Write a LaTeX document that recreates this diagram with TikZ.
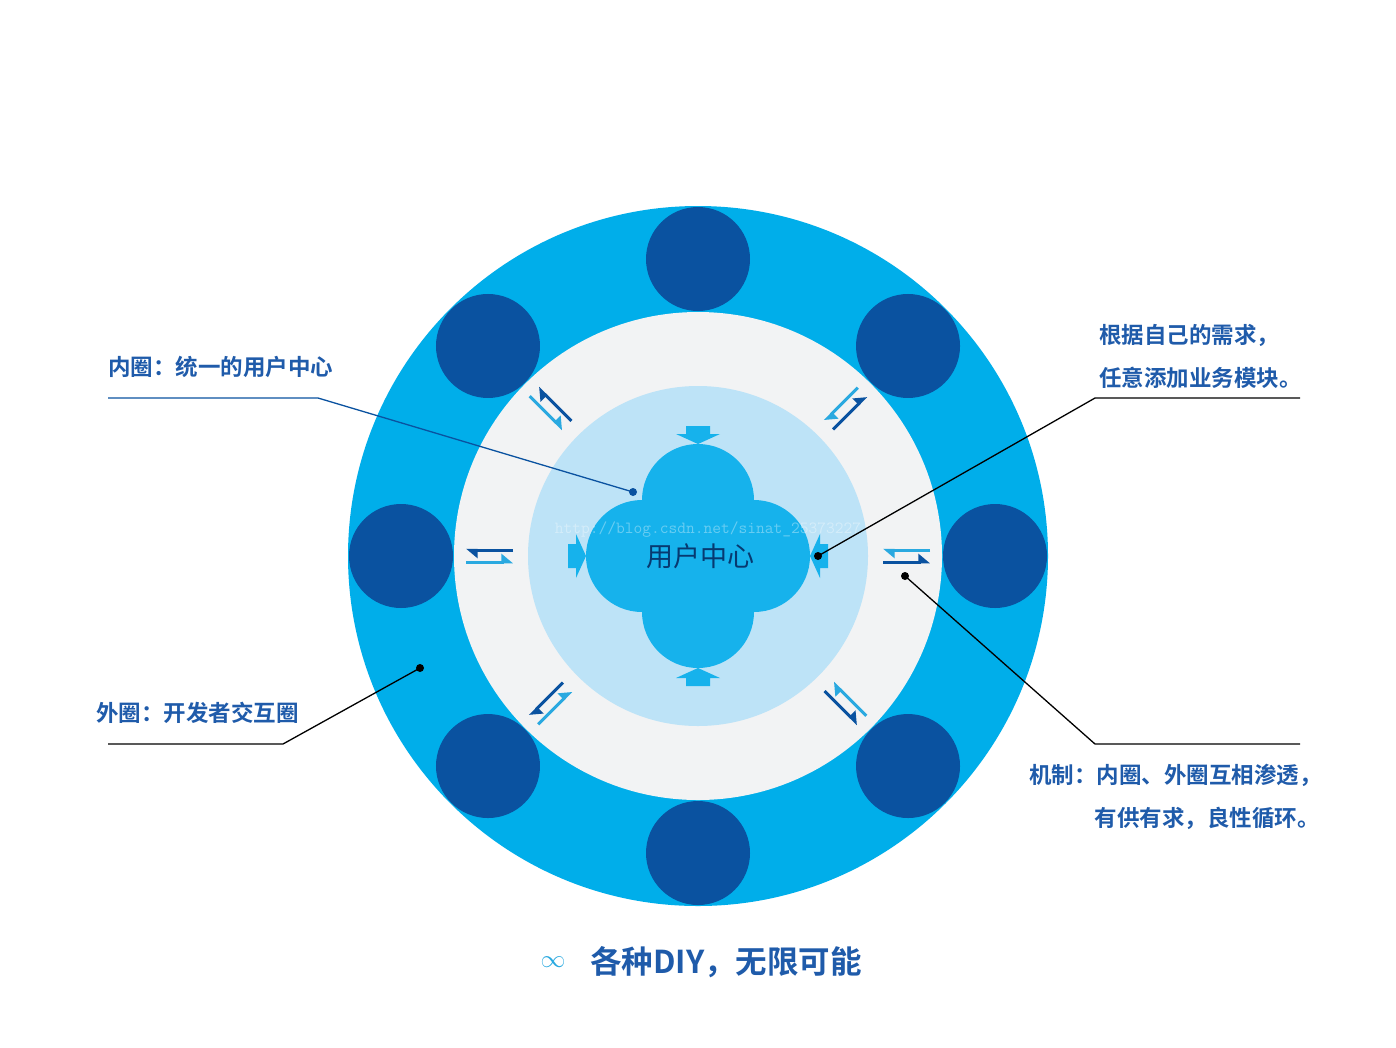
\documentclass[tikz,border=0pt]{standalone}
\usepackage{fontspec}
\newfontfamily\cjk{Noto Sans CJK SC}
\newfontfamily\cjkb{Noto Sans CJK SC Bold}
\usetikzlibrary{arrows.meta}
\definecolor{outer}{HTML}{00AEEA}
\definecolor{darkb}{HTML}{0A52A0}
\definecolor{ring}{HTML}{F2F3F4}
\definecolor{lblue}{HTML}{BDE3F7}
\definecolor{cloudc}{HTML}{16B2EC}
\definecolor{txt}{HTML}{1F5BAA}
\definecolor{harl}{HTML}{2AA9E0}
\tikzset{
  lbl/.style={font=\cjkb\fontsize{22.5}{26}\selectfont, text=txt, inner sep=0pt},
  lead/.style={line width=1.3pt},
  dot/.style={circle, fill, inner sep=0pt, minimum size=8pt},
  hdark/.style={line width=3pt, darkb, -{Triangle[harpoon, length=10pt, width=16pt]}},
  hlight/.style={line width=3pt, harl, -{Triangle[harpoon, length=10pt, width=16pt]}},
  blk/.style={fill=cloudc}
}
\begin{document}
\begin{tikzpicture}[x=1pt,y=-1pt]
\useasboundingbox (0,0) rectangle (1396,1047);
\fill[white] (0,0) rectangle (1396,1047);
\coordinate (c) at (698,556);
\fill[outer] (c) circle (350pt);
\foreach \a in {0,45,...,315}
  \fill[darkb] (c) ++(\a:297pt) circle (52pt);
\fill[ring] (c) circle (244pt);
\fill[lblue] (c) circle (170pt);
% cloud
\fill[cloudc] (c) circle (60pt);
\foreach \a in {0,90,180,270}
  \fill[cloudc] (c) ++(\a:56pt) circle (56pt);
% block arrows pointing to cloud
\foreach \a in {0,90,180,270}{
  \begin{scope}[shift={(c)}, rotate=\a]
  \fill[blk] (0,-112) -- (-22,-122) -- (-12,-122) -- (-12,-130) -- (12,-130) -- (12,-122) -- (22,-122) -- cycle;
  \end{scope}}
% harpoon pairs
\foreach \a in {45,90,135,225,270,315}{
  \begin{scope}[shift={(c)}, rotate=\a]
  \coordinate (hi\a) at (6,-185); \coordinate (ho\a) at (6,-232);
  \coordinate (gi\a) at (-6,-185); \coordinate (go\a) at (-6,-232);
  \draw[hdark] (hi\a) -- (ho\a);
  \draw[hlight] (go\a) -- (gi\a);
  \end{scope}}
\node[font=\ttfamily\fontsize{17}{20}\selectfont, text=white, opacity=0.35] (wm) at (708,530) {http://blog.csdn.net/sinat\_25373227};
\node[font=\cjk\fontsize{27}{30}\selectfont, text=darkb!70!black] (uc) at (700,556) {用户中心};
% labels
\node[lbl, anchor=west] (l1) at (108,367) {内圈：统一的用户中心};
\node[lbl, anchor=west] (l2) at (96,713) {外圈：开发者交互圈};
\node[lbl, anchor=west] (r1) at (1099,335) {根据自己的需求，};
\node[lbl, anchor=west] (r1b) at (1099,378) {任意添加业务模块。};
\node[lbl, anchor=east] (r2) at (1322,775) {机制：内圈、外圈互相渗透，};
\node[lbl, anchor=east] (r2b) at (1320,818) {有供有求，良性循环。};
% leaders
\node[dot, fill=darkb] (d1) at (633,492) {};
\node[dot, fill=black] (d2) at (420,668) {};
\node[dot, fill=black] (d3) at (818,556) {};
\node[dot, fill=black] (d4) at (905,576) {};
\coordinate (a1) at (108,398); \coordinate (b1) at (318,398);
\coordinate (a2) at (108,744); \coordinate (b2) at (283,744);
\coordinate (a3) at (1300,398); \coordinate (b3) at (1095,398);
\coordinate (a4) at (1300,744); \coordinate (b4) at (1095,744);
\draw[lead, darkb] (a1) -- (b1) -- (d1.center);
\draw[lead] (a2) -- (b2) -- (d2.center);
\draw[lead] (a3) -- (b3) -- (d3.center);
\draw[lead] (a4) -- (b4) -- (d4.center);
% bottom
\node[font=\fontsize{58}{58}\selectfont, text=harl, inner sep=0pt] (inf) at (553,962) {$\infty$};
\node[font=\cjkb\fontsize{31.5}{34}\selectfont, text=txt, anchor=west, inner sep=0pt] (tag) at (590,962) {各种DIY，无限可能};
\end{tikzpicture}
\end{document}
